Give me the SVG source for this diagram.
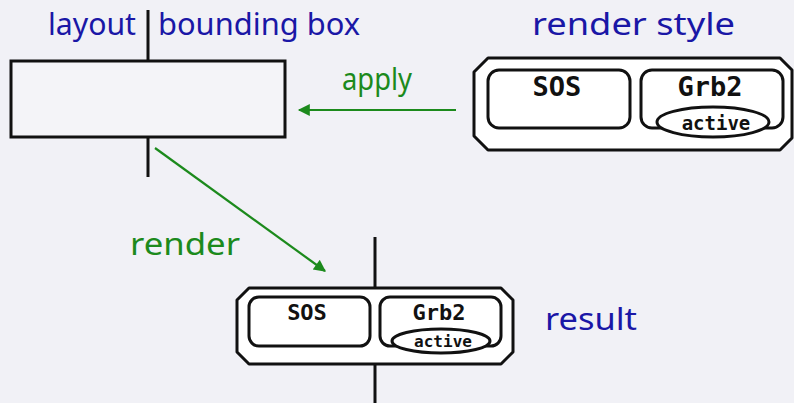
<svg xmlns="http://www.w3.org/2000/svg" width="794" height="403" viewBox="0 0 794 403">
  <style>
    .hand { font-family: "Noto Sans", "Liberation Sans", sans-serif; font-size: 31px; }
    .blue { fill: #1a17a6; }
    .green { fill: #1c8a1c; }
    .mono { font-family: "DejaVu Sans Mono", "Liberation Mono", monospace; font-weight: bold; fill: #111; text-anchor: middle; }
    .frame { fill: #ffffff; stroke: #111; stroke-width: 3; stroke-linejoin: round; }
    .stem { stroke: #111; stroke-width: 3; fill: none; }
    .edge { stroke: #1c8a1c; stroke-width: 2.2; fill: none; }
  </style>
  <defs>
    <marker id="arrow" viewBox="0 0 10 10" refX="9" refY="5" markerWidth="14" markerHeight="12" markerUnits="userSpaceOnUse" orient="auto">
      <path d="M0,0 L10,5 L0,10 z" fill="#1c8a1c"/>
    </marker>
  </defs>

  <rect width="794" height="403" fill="#f1f1f6"/>

  <!-- layout bounding box -->
  <g id="layout-box">
    <line class="stem" x1="148" y1="10" x2="148" y2="61"/>
    <line class="stem" x1="148" y1="137" x2="148" y2="177"/>
    <rect x="11" y="61" width="274" height="76" fill="#f4f4f8" stroke="#111" stroke-width="3"/>
    <text class="hand blue" x="48" y="35" textLength="88" lengthAdjust="spacingAndGlyphs">layout</text>
    <text class="hand blue" x="158" y="35" textLength="202" lengthAdjust="spacingAndGlyphs">bounding box</text>
  </g>

  <!-- render style -->
  <g id="render-style">
    <path class="frame" d="M488,58 L780,58 L792,70 L792,138 L780,150 L488,150 L474,136 L474,72 Z"/>
    <rect class="frame" x="488" y="70" width="142" height="58" rx="11"/>
    <text class="mono" x="557" y="96" font-size="27">SOS</text>
    <rect class="frame" x="641" y="70" width="142" height="58" rx="11"/>
    <text class="mono" x="710" y="96" font-size="27">Grb2</text>
    <ellipse class="frame" cx="713" cy="122" rx="56" ry="15"/>
    <text class="mono" x="716" y="130" font-size="19">active</text>
    <text class="hand blue" x="532" y="35" textLength="203" lengthAdjust="spacingAndGlyphs">render style</text>
  </g>

  <!-- result -->
  <g id="result">
    <line class="stem" x1="375" y1="237" x2="375" y2="288"/>
    <line class="stem" x1="375" y1="364" x2="375" y2="403"/>
    <path class="frame" d="M249,288 L501,288 L513,300 L513,352 L501,364 L249,364 L237,352 L237,300 Z"/>
    <rect class="frame" x="249" y="297" width="121" height="49" rx="10"/>
    <text class="mono" x="307" y="320" font-size="22">SOS</text>
    <rect class="frame" x="380" y="297" width="121" height="49" rx="10"/>
    <text class="mono" x="439" y="320" font-size="22">Grb2</text>
    <ellipse class="frame" cx="441" cy="341" rx="49" ry="12"/>
    <text class="mono" x="443" y="347" font-size="16">active</text>
    <text class="hand blue" x="545" y="330" textLength="92" lengthAdjust="spacingAndGlyphs">result</text>
  </g>

  <!-- connectors -->
  <g id="connectors">
    <line class="edge" x1="456" y1="110" x2="299" y2="110" marker-end="url(#arrow)"/>
    <text class="hand green" x="342" y="90" textLength="70" lengthAdjust="spacingAndGlyphs">apply</text>
    <line class="edge" x1="155" y1="148" x2="325" y2="271" marker-end="url(#arrow)"/>
    <text class="hand green" x="130" y="255" textLength="110" lengthAdjust="spacingAndGlyphs">render</text>
  </g>
</svg>
